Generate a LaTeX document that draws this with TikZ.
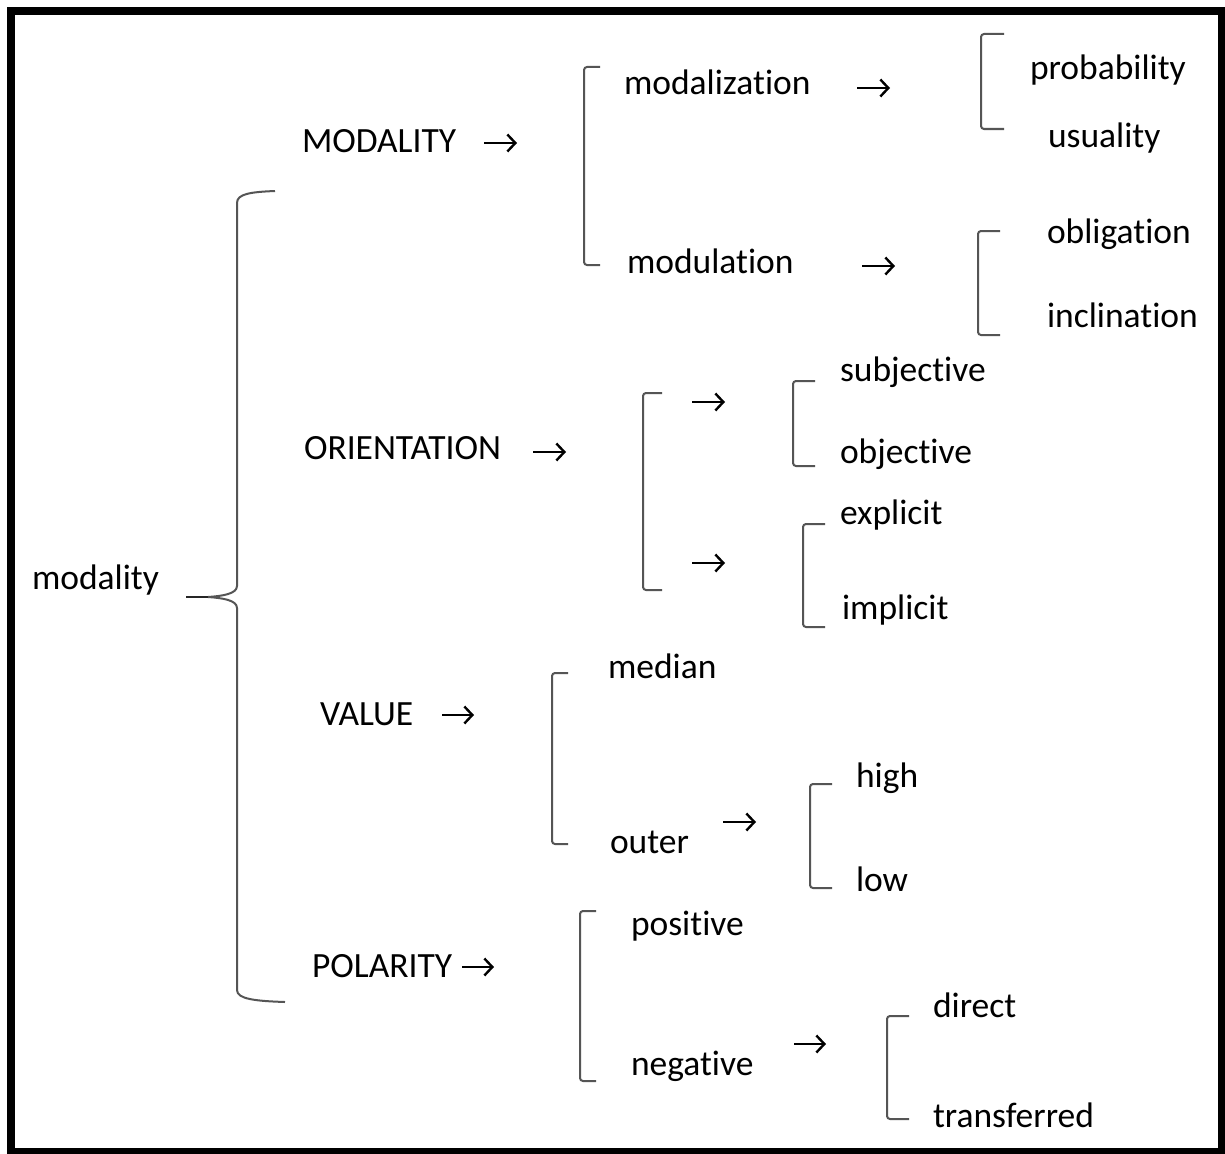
\documentclass[tikz,border=0pt]{standalone}
\usepackage{fontspec}
\setmainfont{Carlito}[Ligatures=NoCommon]
\usetikzlibrary{arrows.meta}
\definecolor{bracketgray}{HTML}{555555}
\tikzset{
  lbl/.style={anchor=base west, inner sep=0pt, outer sep=0pt, text=black,
              font=\fontsize{35.5}{40}\selectfont},
  bracket/.style={draw=bracketgray, line width=2pt, rounded corners=3pt},
  brace/.style={draw=bracketgray, line width=2pt},
  stub/.style={draw=black!85, line width=2.6pt},
  arr/.style={draw=black, line width=2.4pt,
              -{Straight Barb[length=8pt,width=17pt,line width=2.4pt]}},
  frame/.style={draw=black, line width=8pt}
}
\begin{document}
\begin{tikzpicture}[x=1pt,y=-1pt]
\useasboundingbox (0,0) rectangle (1225,1153);
\fill[white] (0,0) rectangle (1225,1153);
\draw[frame] (11,11) rectangle (1222,1152);

% root and the large curly brace
\node[lbl] (root) at (32,589) {modality};
\coordinate (cusp) at (208,597);
\coordinate (stubend) at (186,597);
\draw[brace] (275,191) .. controls (250,192) and (237,194) .. (237,203)
  -- (237,586) .. controls (237,594) and (222,596) .. (cusp);
\draw[brace] (cusp) .. controls (222,598) and (237,600) .. (237,608)
  -- (237,990) .. controls (237,999) and (255,1001) .. (285,1002);
\draw[stub] (cusp) -- (stubend);

% first level
\node[lbl] (modality) at (302,152) {MODALITY};
\node[lbl] (orientation) at (304,459) {ORIENTATION};
\node[lbl] (value) at (320,725) {VALUE};
\node[lbl] (polarity) at (312,977) {POLARITY};

\coordinate (m1s) at (484,143); \coordinate (m1e) at (517,143);
\coordinate (o1s) at (533,452); \coordinate (o1e) at (566,452);
\coordinate (v1s) at (442,715); \coordinate (v1e) at (474,715);
\coordinate (p1s) at (462,967); \coordinate (p1e) at (494,967);
\draw[arr] (m1s) -- (m1e);
\draw[arr] (o1s) -- (o1e);
\draw[arr] (v1s) -- (v1e);
\draw[arr] (p1s) -- (p1e);

% MODALITY branch
\draw[bracket] (600,67) -- (584,67) -- (584,265) -- (600,265);
\node[lbl] (modalization) at (624,95) {modalization};
\node[lbl] (modulation) at (627,273) {modulation};
\coordinate (mz1) at (857,88); \coordinate (mz2) at (890,88);
\coordinate (mu1) at (862,266); \coordinate (mu2) at (895,266);
\draw[arr] (mz1) -- (mz2);
\draw[arr] (mu1) -- (mu2);

\draw[bracket] (1004,34) -- (981,34) -- (981,129) -- (1004,129);
\node[lbl] (probability) at (1030,80) {probability};
\node[lbl] (usuality) at (1048,147) {usuality};

\draw[bracket] (1000,231) -- (978,231) -- (978,335) -- (1000,335);
\node[lbl] (obligation) at (1047,243) {obligation};
\node[lbl] (inclination) at (1047,327) {inclination};

% ORIENTATION branch
\draw[bracket] (662,393) -- (643,393) -- (643,590) -- (662,590);
\coordinate (or1) at (692,402); \coordinate (or2) at (725,402);
\coordinate (or3) at (692,563); \coordinate (or4) at (725,563);
\draw[arr] (or1) -- (or2);
\draw[arr] (or3) -- (or4);

\draw[bracket] (815,381) -- (793,381) -- (793,466) -- (815,466);
\node[lbl] (subjective) at (840,381) {subjective};
\node[lbl] (objective) at (840,463) {objective};

\draw[bracket] (825,524) -- (803,524) -- (803,627) -- (825,627);
\node[lbl] (explicit) at (840,524) {explicit};
\node[lbl] (implicit) at (842,619) {implicit};

% VALUE branch
\draw[bracket] (568,673) -- (552,673) -- (552,844) -- (568,844);
\node[lbl] (median) at (608,678) {median};
\node[lbl] (outer) at (610,853) {outer};
\coordinate (ou1) at (723,822); \coordinate (ou2) at (756,822);
\draw[arr] (ou1) -- (ou2);

\draw[bracket] (832,784) -- (810,784) -- (810,888) -- (832,888);
\node[lbl] (high) at (856,787) {high};
\node[lbl] (low) at (856,891) {low};

% POLARITY branch
\draw[bracket] (596,911) -- (580,911) -- (580,1081) -- (596,1081);
\node[lbl] (positive) at (631,935) {positive};
\node[lbl] (negative) at (631,1075) {negative};
\coordinate (ng1) at (794,1044); \coordinate (ng2) at (826,1044);
\draw[arr] (ng1) -- (ng2);

\draw[bracket] (909,1016) -- (887,1016) -- (887,1119) -- (909,1119);
\node[lbl] (direct) at (933,1017) {direct};
\node[lbl] (transferred) at (933,1127) {transferred};
\end{tikzpicture}
\end{document}
